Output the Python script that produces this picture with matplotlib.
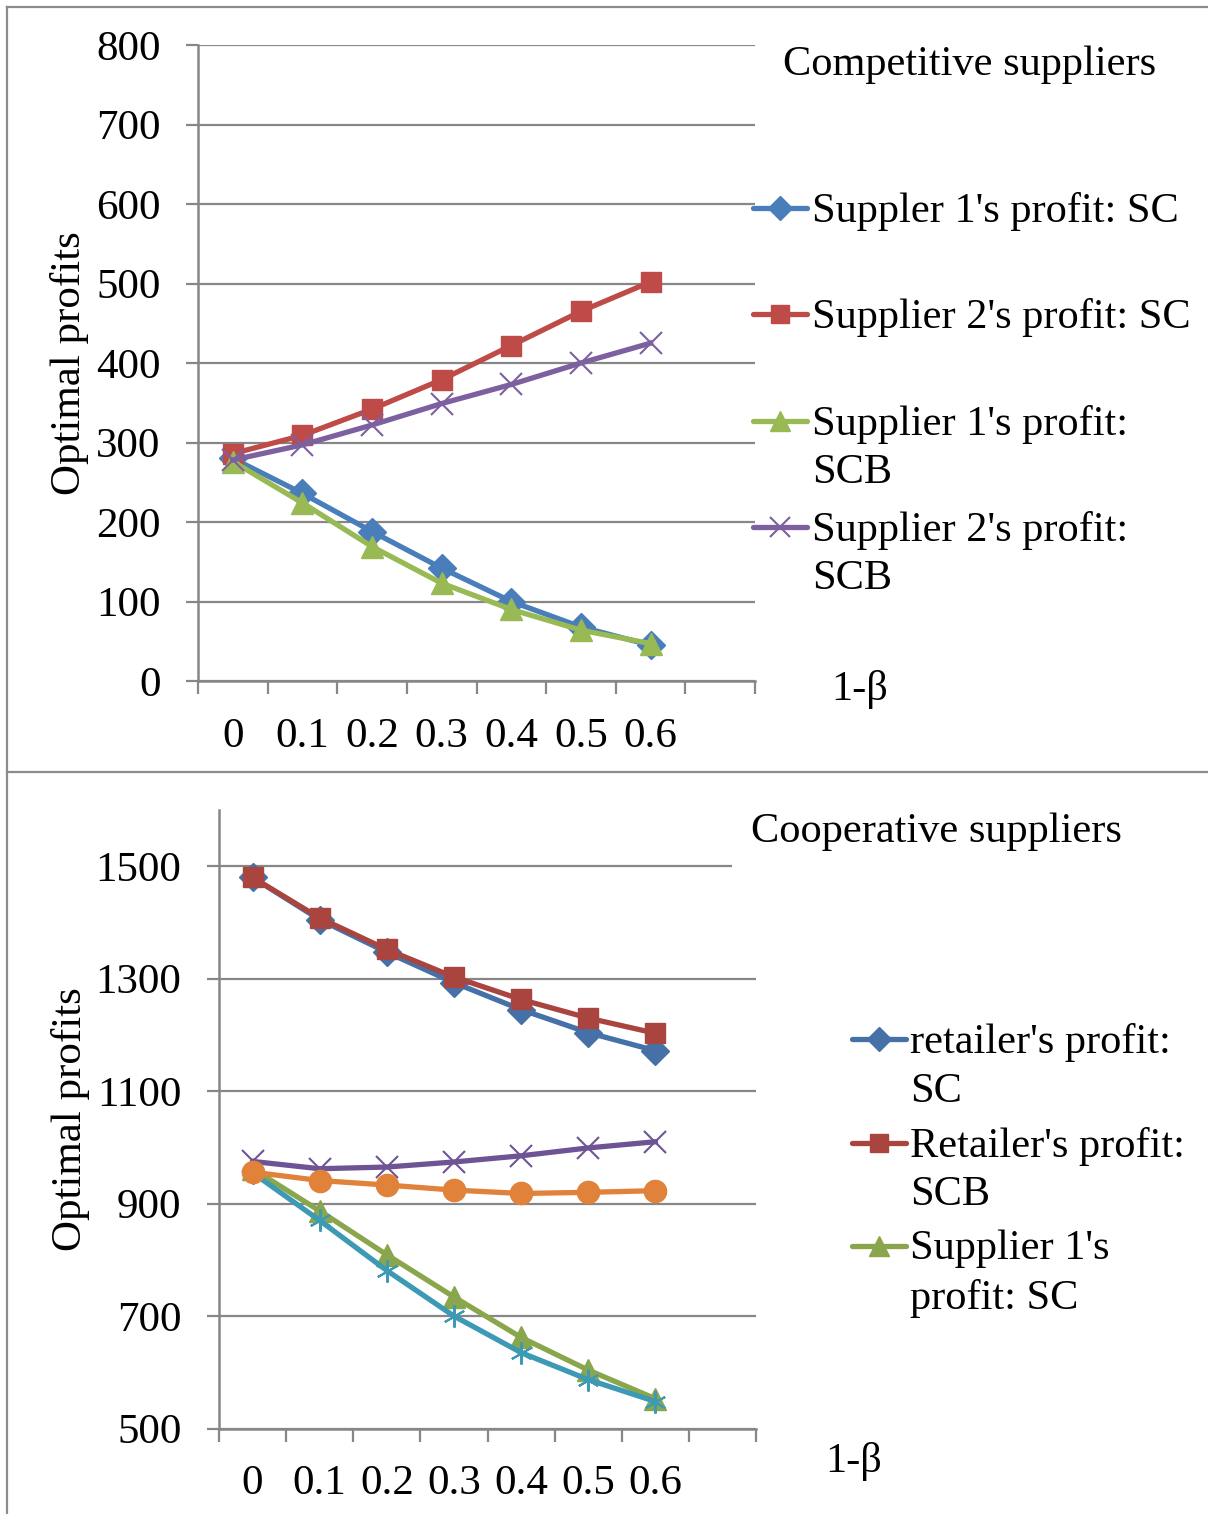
import matplotlib
matplotlib.use("Agg")
import matplotlib.pyplot as plt
from matplotlib.lines import Line2D

plt.rcParams['font.family'] = ['Liberation Serif', 'DejaVu Serif']

# data
beta = ['0', '0.1', '0.2', '0.3', '0.4', '0.5', '0.6']

# competitive suppliers
s1_sc = [280, 236, 188, 142, 100, 68, 45]
s2_sc = [286, 309, 342, 379, 422, 465, 502]
s1_scb = [276, 224, 169, 123, 90, 64, 47]
s2_scb = [278, 297, 322, 349, 373, 400, 425]

# cooperative suppliers
ret_sc = [1480, 1405, 1347, 1293, 1245, 1204, 1172]
ret_scb = [1480, 1408, 1352, 1303, 1263, 1230, 1203]
sup1_sc = [962, 887, 809, 734, 662, 604, 553]
sup2_sc = [975, 962, 965, 974, 985, 999, 1010]
sup1_scb = [955, 870, 781, 700, 635, 587, 548]
sup2_scb = [956, 941, 933, 924, 918, 920, 923]

W, H = 1208, 1514
GRAY = '#878787'
FS = 30.5
LW = 3.8


def fx(px):
    return px / W


def fy(py):
    return 1 - py / H


def setup_axes(ax, ylim, yticks):
    n = len(beta)
    ax.set_xlim(-0.5, n + 0.5)
    ax.set_ylim(*ylim)
    ax.set_yticks(yticks)
    ax.set_xticks([i - 0.5 for i in range(n + 2)])
    ax.set_xticklabels([])
    ax.set_xticks(range(n), minor=True)
    ax.set_xticklabels(beta, minor=True)
    ax.tick_params(axis='x', which='minor', length=0, pad=26, labelsize=31)
    ax.tick_params(axis='x', which='major', length=9, width=1.6, color=GRAY)
    ax.tick_params(axis='y', length=9, width=1.6, color=GRAY, pad=18, labelsize=31)
    for s in ['top', 'right']:
        ax.spines[s].set_visible(False)
    for s in ['left', 'bottom']:
        ax.spines[s].set_color(GRAY)
        ax.spines[s].set_linewidth(1.8)
    ax.grid(axis='y', color=GRAY, linewidth=1.6)
    ax.set_axisbelow(True)


def draw_legend(fig, lines, labels, x0, x1, y0, step, tx):
    for i, (ln, lab) in enumerate(zip(lines, labels)):
        y = y0 + i * step
        h = Line2D([fx(x0), fx((x0 + x1) / 2), fx(x1)], [fy(y)] * 3,
                   color=ln.get_color(), lw=ln.get_linewidth(),
                   marker=ln.get_marker(), markersize=ln.get_markersize() * 0.9,
                   markevery=[1], markeredgewidth=ln.get_markeredgewidth(),
                   markeredgecolor=ln.get_markeredgecolor(),
                   solid_capstyle='round', transform=fig.transFigure)
        fig.add_artist(h)
        fig.text(fx(tx), fy(y - 16), lab, fontsize=FS, ha='left', va='top',
                 linespacing=1.34)


fig = plt.figure(figsize=(W / 100, H / 100), dpi=100)

# frame lines of the two pasted charts
fig.add_artist(Line2D([fx(7), fx(7)], [fy(7), 0], color='#8c8c8c', lw=1.6))
fig.add_artist(Line2D([fx(7), 1], [fy(7), fy(7)], color='#8c8c8c', lw=1.6))
fig.add_artist(Line2D([fx(7), 1], [fy(772), fy(772)], color='#8c8c8c', lw=1.6))

# ---- top panel
ax1 = fig.add_axes([fx(198), fy(681), (755 - 198) / W, (681 - 45) / H])
x = range(len(beta))
l1 = ax1.plot(x, s1_sc, color='#4A7EBB', lw=LW, marker='D', ms=14)[0]
l2 = ax1.plot(x, s2_sc, color='#BE4B48', lw=LW, marker='s', ms=15)[0]
l3 = ax1.plot(x, s1_scb, color='#98B954', lw=LW, marker='^', ms=16)[0]
l4 = ax1.plot(x, s2_scb, color='#7D60A0', lw=LW, marker='x', ms=16, mew=1.5)[0]
setup_axes(ax1, (0, 800), range(0, 801, 100))
ax1.set_ylabel('Optimal profits', fontsize=31)
ax1.yaxis.set_label_coords(-0.195, 0.5)

fig.text(fx(783), fy(75), 'Competitive suppliers', fontsize=FS)
fig.text(fx(831), fy(700), '1-β', fontsize=FS)
draw_legend(fig, [l1, l2, l3, l4],
            ["Suppler 1's profit: SC", "Supplier 2's profit: SC",
             "Supplier 1's profit:\nSCB", "Supplier 2's profit:\nSCB"],
            753, 807, 208, 106.3, 812)

# ---- bottom panel
ax2 = fig.add_axes([fx(219), fy(1428.5), (756 - 219) / W, (1428.5 - 810) / H])
b1 = ax2.plot(x, ret_sc, color='#4571A8', lw=LW, marker='D', ms=14)[0]
b2 = ax2.plot(x, ret_scb, color='#A9443F', lw=LW, marker='s', ms=15)[0]
b3 = ax2.plot(x, sup1_sc, color='#89A64C', lw=LW, marker='^', ms=16)[0]
b4 = ax2.plot(x, sup2_sc, color='#6E5494', lw=LW, marker='x', ms=16, mew=1.5)[0]
b5 = ax2.plot(x, sup1_scb, color='#3C9AB5', lw=LW, marker=(6, 2, 0), ms=16,
              mew=1.5)[0]
b6 = ax2.plot(x, sup2_scb, color='#E0823A', lw=LW, marker='o', ms=16)[0]
setup_axes(ax2, (500, 1600), range(500, 1501, 200))
ax2.set_ylabel('Optimal profits', fontsize=31)
ax2.yaxis.set_label_coords(-0.24, 0.5)

fig.text(fx(751), fy(842), 'Cooperative suppliers', fontsize=FS,
         bbox=dict(facecolor='white', edgecolor='none', pad=14))
fig.text(fx(825), fy(1472), '1-β', fontsize=FS)
draw_legend(fig, [b1, b2, b3],
            ["retailer's profit:\nSC", "Retailer's profit:\nSCB",
             "Supplier 1's\nprofit: SC"],
            852, 906, 1039, 103.5, 910)

fig.savefig('out.png', dpi=100)
